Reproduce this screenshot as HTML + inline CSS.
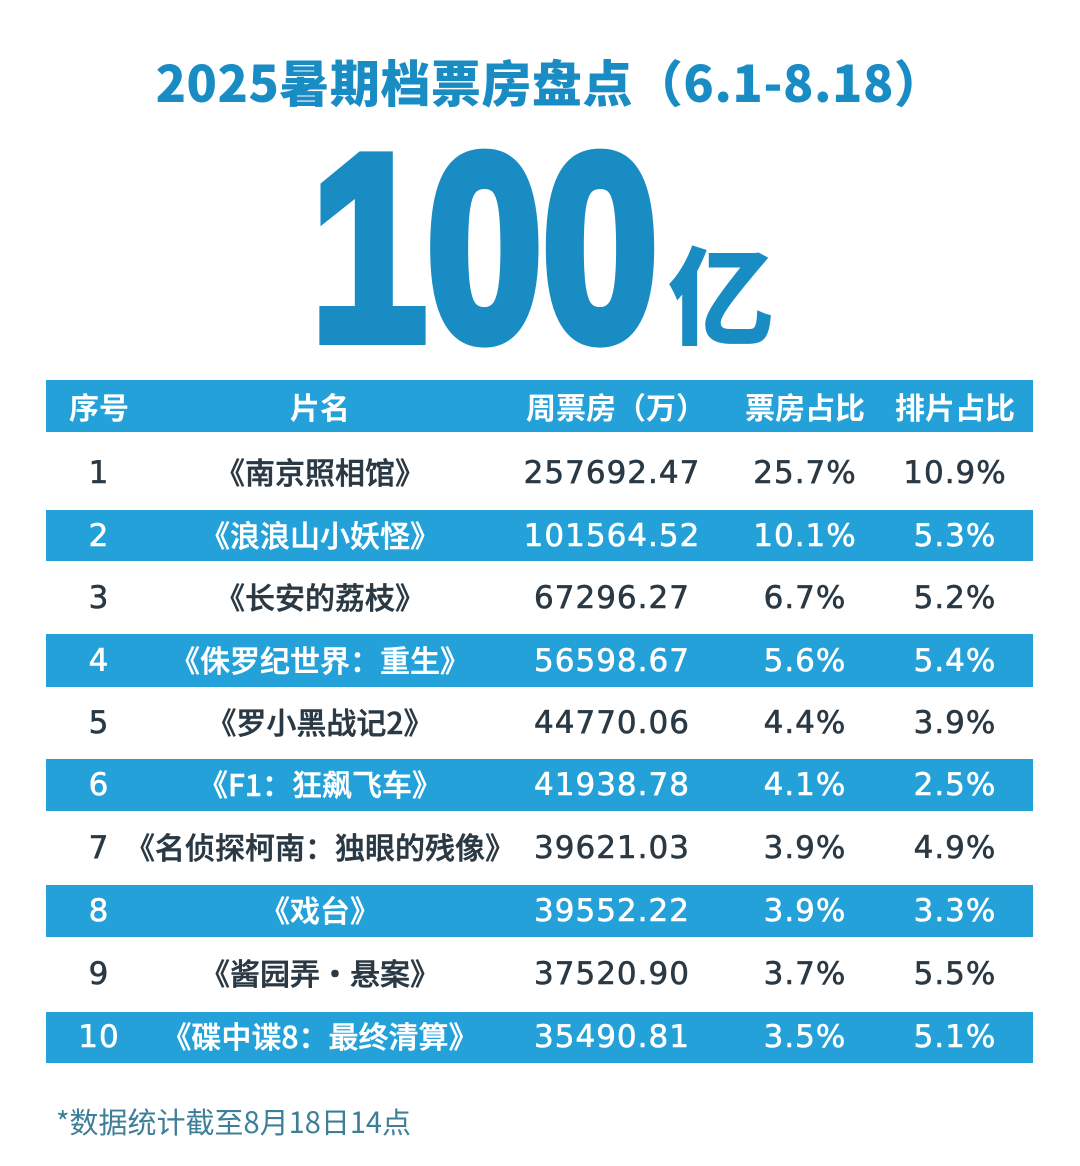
<!DOCTYPE html>
<html>
<head>
<meta charset="utf-8">
<style>
  html, body { margin:0; padding:0; }
  body { width:1080px; height:1166px; background:#ffffff; position:relative; overflow:hidden; }
  .title { position:absolute; left:10px; top:51px; width:1080px; height:60px; line-height:60px; text-align:center;
    font-family:"Noto Sans CJK SC", "Liberation Sans", sans-serif; font-weight:900; font-size:50px; color:#1a8cc4; letter-spacing:0.5px; }
  .band { position:absolute; left:46px; width:987px; background:#23a1d8; }
  .cell { position:absolute; height:62px; line-height:62px; text-align:center; white-space:nowrap; }
  .hdr { font-family:"Noto Sans CJK SC", sans-serif; font-weight:700; font-size:30px; color:#ffffff; height:52px; line-height:52px; }
  .num { font-family:"DejaVu Sans", "Liberation Sans", sans-serif; font-size:31px; letter-spacing:1px; -webkit-text-stroke:0.6px currentColor; }
  .nm { font-family:"Noto Sans CJK SC", sans-serif; font-weight:500; font-size:30px; -webkit-text-stroke:0.5px currentColor; margin-top:-2px; }
  .dark { color:#2a3944; }
  .light { color:#ffffff; }
  .c1 { left:49px; width:100px; }
  .c2 { left:120px; width:400px; }
  .c3 { left:512px; width:200px; }
  .c4 { left:705px; width:200px; }
  .c5 { left:855px; width:200px; }
  .foot { position:absolute; left:56px; top:1101px; height:40px; line-height:40px;
    font-family:"Noto Sans CJK SC", sans-serif; font-size:29px; color:#3d7f99; white-space:nowrap; }
</style>
</head>
<body>
<div class="title">2025暑期档票房盘点（6.1-8.18）</div>

<svg width="1080" height="1166" style="position:absolute;left:0;top:0;">
  <text x="311" y="339" font-family="Liberation Sans" font-weight="bold" font-size="264" textLength="347" lengthAdjust="spacingAndGlyphs" fill="#1a8cc4" stroke="#1a8cc4" stroke-width="12" stroke-linejoin="miter">100</text>
  <text x="668" y="336" font-family="Noto Sans CJK SC" font-weight="900" font-size="106" fill="#1a8cc4">亿</text>
</svg>

<!-- bands -->
<div class="band" style="top:380px;height:52px;"></div>
<div class="band" style="top:510px;height:51px;"></div>
<div class="band" style="top:634px;height:53px;"></div>
<div class="band" style="top:759px;height:52px;"></div>
<div class="band" style="top:885px;height:52px;"></div>
<div class="band" style="top:1012px;height:51px;"></div>

<!-- header -->
<div class="cell hdr c1" style="top:380px;">序号</div>
<div class="cell hdr c2" style="top:380px;">片名</div>
<div class="cell hdr c3" style="top:380px;left:516px;">周票房（万）</div>
<div class="cell hdr c4" style="top:380px;">票房占比</div>
<div class="cell hdr c5" style="top:380px;">排片占比</div>

<!-- row 1 -->
<div class="cell num dark c1" style="top:442px;">1</div>
<div class="cell nm dark c2" style="top:442px;">《南京照相馆》</div>
<div class="cell num dark c3" style="top:442px;">257692.47</div>
<div class="cell num dark c4" style="top:442px;">25.7%</div>
<div class="cell num dark c5" style="top:442px;">10.9%</div>

<!-- row 2 -->
<div class="cell num light c1" style="top:505px;">2</div>
<div class="cell nm light c2" style="top:505px;">《浪浪山小妖怪》</div>
<div class="cell num light c3" style="top:505px;">101564.52</div>
<div class="cell num light c4" style="top:505px;">10.1%</div>
<div class="cell num light c5" style="top:505px;">5.3%</div>

<!-- row 3 -->
<div class="cell num dark c1" style="top:567px;">3</div>
<div class="cell nm dark c2" style="top:567px;">《长安的荔枝》</div>
<div class="cell num dark c3" style="top:567px;">67296.27</div>
<div class="cell num dark c4" style="top:567px;">6.7%</div>
<div class="cell num dark c5" style="top:567px;">5.2%</div>

<!-- row 4 -->
<div class="cell num light c1" style="top:630px;">4</div>
<div class="cell nm light c2" style="top:630px;">《侏罗纪世界：重生》</div>
<div class="cell num light c3" style="top:630px;">56598.67</div>
<div class="cell num light c4" style="top:630px;">5.6%</div>
<div class="cell num light c5" style="top:630px;">5.4%</div>

<!-- row 5 -->
<div class="cell num dark c1" style="top:692px;">5</div>
<div class="cell nm dark c2" style="top:692px;">《罗小黑战记2》</div>
<div class="cell num dark c3" style="top:692px;">44770.06</div>
<div class="cell num dark c4" style="top:692px;">4.4%</div>
<div class="cell num dark c5" style="top:692px;">3.9%</div>

<!-- row 6 -->
<div class="cell num light c1" style="top:754px;">6</div>
<div class="cell nm light c2" style="top:754px;">《F1：狂飙飞车》</div>
<div class="cell num light c3" style="top:754px;">41938.78</div>
<div class="cell num light c4" style="top:754px;">4.1%</div>
<div class="cell num light c5" style="top:754px;">2.5%</div>

<!-- row 7 -->
<div class="cell num dark c1" style="top:817px;">7</div>
<div class="cell nm dark c2" style="top:817px;">《名侦探柯南：独眼的残像》</div>
<div class="cell num dark c3" style="top:817px;">39621.03</div>
<div class="cell num dark c4" style="top:817px;">3.9%</div>
<div class="cell num dark c5" style="top:817px;">4.9%</div>

<!-- row 8 -->
<div class="cell num light c1" style="top:880px;">8</div>
<div class="cell nm light c2" style="top:880px;">《戏台》</div>
<div class="cell num light c3" style="top:880px;">39552.22</div>
<div class="cell num light c4" style="top:880px;">3.9%</div>
<div class="cell num light c5" style="top:880px;">3.3%</div>

<!-- row 9 -->
<div class="cell num dark c1" style="top:943px;">9</div>
<div class="cell nm dark c2" style="top:943px;">《酱园弄・悬案》</div>
<div class="cell num dark c3" style="top:943px;">37520.90</div>
<div class="cell num dark c4" style="top:943px;">3.7%</div>
<div class="cell num dark c5" style="top:943px;">5.5%</div>

<!-- row 10 -->
<div class="cell num light c1" style="top:1006px;">10</div>
<div class="cell nm light c2" style="top:1006px;">《碟中谍8：最终清算》</div>
<div class="cell num light c3" style="top:1006px;">35490.81</div>
<div class="cell num light c4" style="top:1006px;">3.5%</div>
<div class="cell num light c5" style="top:1006px;">5.1%</div>

<div class="foot">*数据统计截至8月18日14点</div>
</body>
</html>
